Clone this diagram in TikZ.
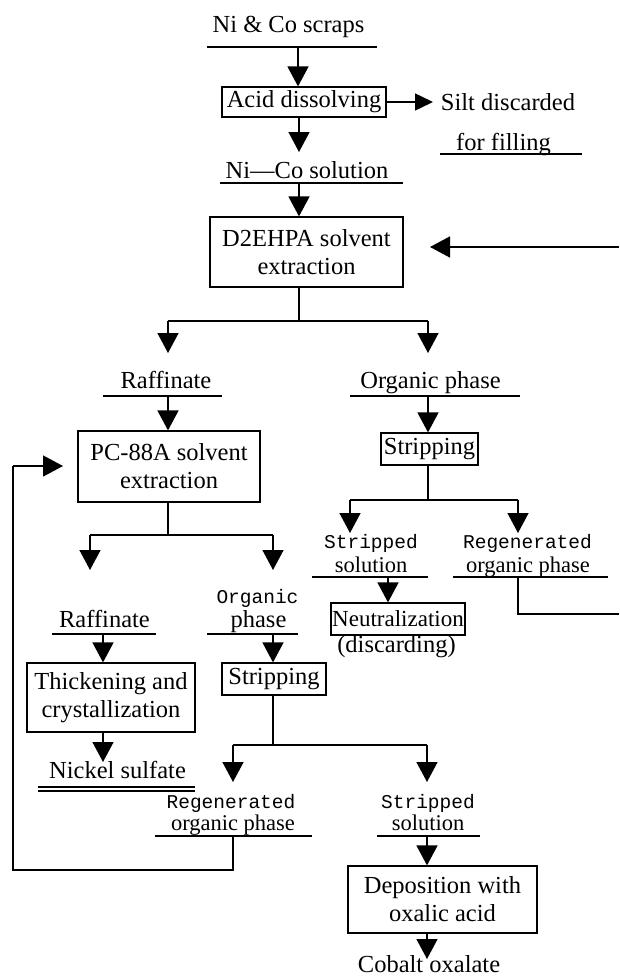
\documentclass[tikz,border=0pt]{standalone}
\usepackage{fontspec}
\setmainfont{Liberation Serif}
\newfontfamily\monofont{Liberation Mono}
\usetikzlibrary{arrows.meta}
\begin{document}
\begin{tikzpicture}[x=1pt,y=-1pt,
  lbl/.style={inner sep=0pt, anchor=base, font=\fontsize{24.5}{28}\selectfont},
  sl/.style={inner sep=0pt, anchor=base, font=\fontsize{22.5}{24}\selectfont},
  ml/.style={inner sep=0pt, anchor=base, font=\monofont\fontsize{19.5}{22}\selectfont},
  box/.style={draw, line width=1.2pt, inner sep=0pt, align=center, font=\fontsize{24.5}{28}\selectfont},
  arr/.style={line width=1.5pt, -{Triangle[width=21pt,length=20pt]}},
  sarr/.style={line width=1.5pt, -{Triangle[width=17pt,length=18pt]}},
  ln/.style={line width=1.5pt},
  ul/.style={line width=1.3pt}]
\useasboundingbox (0,0) rectangle (619,979);

% ---------- top ----------
\node[lbl] (scraps) at (288.5,33) {Ni \& Co scraps};
\coordinate (scrapsL) at (207,47); \coordinate (scrapsR) at (377,47);
\coordinate (scrapsU) at (298,47);
\draw[ul] (scrapsL) -- (scrapsR);

\node[box, minimum width=164pt, minimum height=30pt] (acid) at (304,102) {Acid dissolving};
\draw[arr] (scrapsU) -- (scrapsU |- acid.north);

\node[lbl] (silt) at (508,111) {Silt discarded};
\coordinate (siltin) at (433,102);
\draw[sarr] (acid.east) -- (siltin);
\node[lbl] (fill) at (503.5,150) {for filling};
\coordinate (fillL) at (440,154); \coordinate (fillR) at (582,154);
\draw[ul] (fillL) -- (fillR);

\node[lbl] (nico) at (307,178) {Ni—Co solution};
\coordinate (nicoL) at (220,183); \coordinate (nicoR) at (403,183);
\coordinate (nicoU) at (299,183);
\draw[ul] (nicoL) -- (nicoR);
\coordinate (acidD) at (299,152);
\draw[arr] (acid.south -| acidD) -- (acidD);

\node[box, minimum width=193pt, minimum height=70pt] (d2) at (306.5,252) {D2EHPA solvent\\extraction};
\draw[arr] (nicoU) -- (nicoU |- d2.north);
\coordinate (rin) at (619,247); \coordinate (d2in) at (430,247);
\draw[arr] (rin) -- (d2in);

% ---------- first split ----------
\coordinate (j1) at (299,321);
\coordinate (j1L) at (168,321); \coordinate (j1R) at (428,321);
\coordinate (j1Ld) at (168,353); \coordinate (j1Rd) at (428,353);
\draw[ln] (d2.south -| j1) -- (j1);
\draw[ln] (j1L) -- (j1R);
\draw[arr] (j1L) -- (j1Ld);
\draw[arr] (j1R) -- (j1Rd);

\node[lbl] (raff1) at (166,388) {Raffinate};
\coordinate (raff1L) at (103,396); \coordinate (raff1R) at (222,396);
\coordinate (raff1U) at (168,396);
\draw[ul] (raff1L) -- (raff1R);

\node[lbl] (org1) at (430.5,388) {Organic phase};
\coordinate (org1L) at (350,396); \coordinate (org1R) at (520,396);
\coordinate (org1U) at (428,396);
\draw[ul] (org1L) -- (org1R);

\node[box, minimum width=182pt, minimum height=71pt] (pc) at (169,466.5) {PC-88A solvent\\extraction};
\draw[arr] (raff1U) -- (raff1U |- pc.north);

\node[box, minimum width=97pt, minimum height=32pt] (strip1) at (429.5,449) {Stripping};
\draw[arr] (org1U) -- (org1U |- strip1.north);

% ---------- right branch ----------
\coordinate (j2) at (428,500);
\coordinate (j2L) at (350,500); \coordinate (j2R) at (518,500);
\coordinate (j2Ld) at (350,533); \coordinate (j2Rd) at (518,533);
\draw[ln] (strip1.south -| j2) -- (j2);
\draw[ln] (j2L) -- (j2R);
\draw[arr] (j2L) -- (j2Ld);
\draw[arr] (j2R) -- (j2Rd);

\node[ml] (ss1a) at (371,548) {Stripped};
\node[sl] (ss1b) at (371,572) {solution};
\coordinate (ss1L) at (312,577); \coordinate (ss1R) at (428,577);
\coordinate (ss1U) at (388,577);
\draw[ul] (ss1L) -- (ss1R);

\node[ml] (rg1a) at (527.5,548) {Regenerated};
\node[sl] (rg1b) at (528,572) {organic phase};
\coordinate (rg1L) at (453,577); \coordinate (rg1R) at (608,577);
\coordinate (rg1U) at (518,577); \coordinate (rg1c) at (518,614);
\coordinate (rg1out) at (619,614);
\draw[ul] (rg1L) -- (rg1R);
\draw[ln] (rg1U) -- (rg1c) -- (rg1out);

\node[box, minimum width=134pt, minimum height=32pt, font=\fontsize{23}{26}\selectfont] (neut) at (398,619) {Neutralization};
\draw[arr] (ss1U) -- (ss1U |- neut.north);
\node[lbl] (disc) at (396.5,652) {(discarding)};

% ---------- left branch ----------
\coordinate (j3) at (168,535);
\coordinate (j3L) at (90,535); \coordinate (j3R) at (273,535);
\coordinate (j3Ld) at (90,570); \coordinate (j3Rd) at (273,570);
\draw[ln] (pc.south -| j3) -- (j3);
\draw[ln] (j3L) -- (j3R);
\draw[arr] (j3L) -- (j3Ld);
\draw[arr] (j3R) -- (j3Rd);

\node[lbl] (raff2) at (104.5,627) {Raffinate};
\coordinate (raff2L) at (52,634); \coordinate (raff2R) at (156,634);
\coordinate (raff2U) at (103,634);
\draw[ul] (raff2L) -- (raff2R);

\node[ml] (org2a) at (257.5,603) {Organic};
\node[lbl] (org2b) at (258.5,627) {phase};
\coordinate (org2L) at (207,634); \coordinate (org2R) at (298,634);
\coordinate (org2U) at (273,634);
\draw[ul] (org2L) -- (org2R);

\node[box, minimum width=168pt, minimum height=69pt] (thick) at (111,697.5) {Thickening and\\crystallization};
\draw[arr] (raff2U) -- (raff2U |- thick.north);

\node[box, minimum width=104pt, minimum height=32pt] (strip2) at (274,679) {Stripping};
\draw[arr] (org2U) -- (org2U |- strip2.north);

\coordinate (nsD) at (103,762);
\draw[arr] (thick.south -| nsD) -- (nsD);
\node[lbl] (ns) at (117.5,778) {Nickel sulfate};
\coordinate (ns1L) at (38,787); \coordinate (ns1R) at (195,787);
\coordinate (ns2L) at (38,791); \coordinate (ns2R) at (195,791);
\draw[line width=1.1pt] (ns1L) -- (ns1R);
\draw[line width=1.1pt] (ns2L) -- (ns2R);

% ---------- lower split ----------
\coordinate (j4) at (273,745);
\coordinate (j4L) at (233,745); \coordinate (j4R) at (427,745);
\coordinate (j4Ld) at (233,782); \coordinate (j4Rd) at (427,782);
\draw[ln] (strip2.south -| j4) -- (j4);
\draw[ln] (j4L) -- (j4R);
\draw[arr] (j4L) -- (j4Ld);
\draw[arr] (j4R) -- (j4Rd);

\node[ml] (rg2a) at (231,808) {Regenerated};
\node[sl] (rg2b) at (233,830) {organic phase};
\coordinate (rg2L) at (155,836); \coordinate (rg2R) at (312,836);
\coordinate (rg2U) at (233,836);
\draw[ul] (rg2L) -- (rg2R);

\node[ml] (ss2a) at (428,808) {Stripped};
\node[sl] (ss2b) at (428,830) {solution};
\coordinate (ss2L) at (377,836); \coordinate (ss2R) at (480,836);
\coordinate (ss2U) at (427,836);
\draw[ul] (ss2L) -- (ss2R);

% feedback loop
\coordinate (fb1) at (233,870); \coordinate (fb2) at (13,870);
\coordinate (fb3) at (13,466); \coordinate (pcin) at (63,466);
\draw[ln] (rg2U) -- (fb1) -- (fb2) -- (fb3);
\draw[arr] (fb3) -- (pcin);

\node[box, minimum width=189pt, minimum height=67pt] (depo) at (442.5,899.5) {Deposition with\\oxalic acid};
\draw[arr] (ss2U) -- (ss2U |- depo.north);
\coordinate (coD) at (427,959);
\draw[arr] (depo.south -| coD) -- (coD);
\node[lbl] (co) at (429,972.5) {Cobalt oxalate};
\end{tikzpicture}
\end{document}
